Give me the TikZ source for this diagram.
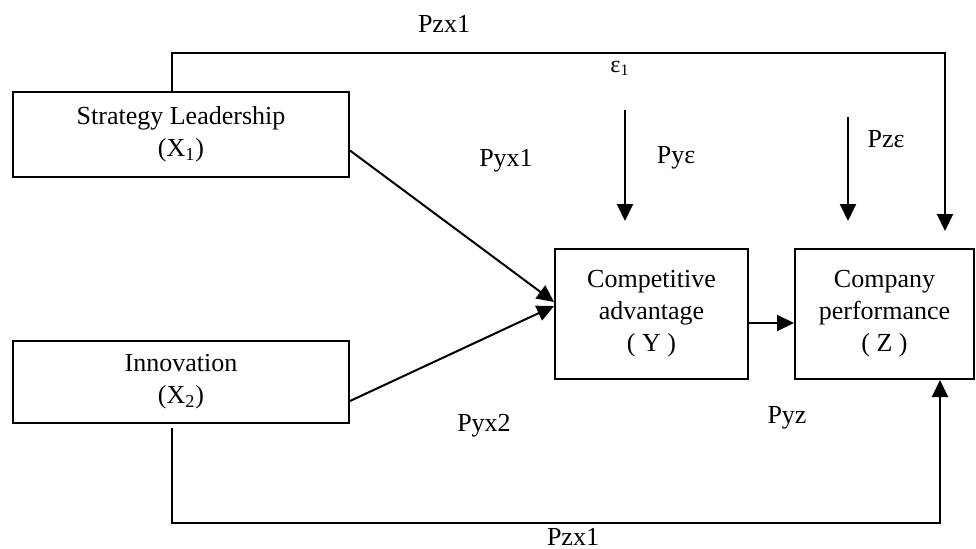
\documentclass[tikz,border=0pt]{standalone}
\usepackage{fontspec}
\setmainfont{Liberation Serif}
\usetikzlibrary{arrows.meta}

\begin{document}
\begin{tikzpicture}[x=0.5pt,y=-0.5pt,line width=1pt,
    box/.style={draw,align=center,inner sep=0pt,
      font=\fontsize{13}{16}\selectfont},
    lbl/.style={anchor=base,inner sep=0pt,
      font=\fontsize{13}{16}\selectfont},
    arr/.style={-{Triangle[length=8.5pt,width=8pt]}}]
    \useasboundingbox (0,0) rectangle (976,548);
    % Boxes
    \node[box,minimum width=168pt,minimum height=42.5pt] (x1) at (181,134.5)
      {Strategy Leadership\\(X\textsubscript{1})};
    \node[box,minimum width=168pt,minimum height=41pt] (x2) at (181,382)
      {Innovation\\(X\textsubscript{2})};
    \node[box,minimum width=96.5pt,minimum height=65pt] (y) at (651.5,314)
      {Competitive\\advantage\\( Y )};
    \node[box,minimum width=89.5pt,minimum height=65pt] (z) at (884.5,314)
      {Company\\performance\\( Z )};
    % Error terms
    \coordinate (ey) at (625,110);
    \coordinate (ez) at (848,117);
    \coordinate (top) at (945,53);
    \coordinate (bot) at (940,523);
    % Paths
    \draw[arr] ([yshift=-8pt]x1.east) -- ([yshift=6pt]y.west);
    \draw[arr] ([yshift=-9.5pt]x2.east) -- ([yshift=4pt]y.west);
    \draw[arr] ([yshift=-4.5pt]y.east) -- ([yshift=-4.5pt]z.west);
    \draw[arr] ([xshift=-4.5pt]x1.north) |- (top)
      -- ([yshift=8.5pt]top |- z.north);
    \draw[arr] ([xshift=-4.5pt,yshift=-2pt]x2.south) |- (bot)
      -- (bot |- z.south);
    \draw[arr] (ey) -- ++(0,111);
    \draw[arr] (ez) -- ++(0,104);
    % Labels
    \node[lbl] (pzx1a) at (444,32) {Pzx1};
    \node[lbl,font=\fontsize{12}{14}\selectfont] (eps) at (620,72)
      {ε\textsubscript{1}};
    \node[lbl] (pyx1) at (506,166) {Pyx1};
    \node[lbl] (pye) at (676,163) {Pyε};
    \node[lbl] (pze) at (886,147) {Pzε};
    \node[lbl] (pyx2) at (484,431) {Pyx2};
    \node[lbl] (pyz) at (787,423) {Pyz};
    \node[lbl] (pzx1b) at (573,545) {Pzx1};
\end{tikzpicture}
\end{document}
